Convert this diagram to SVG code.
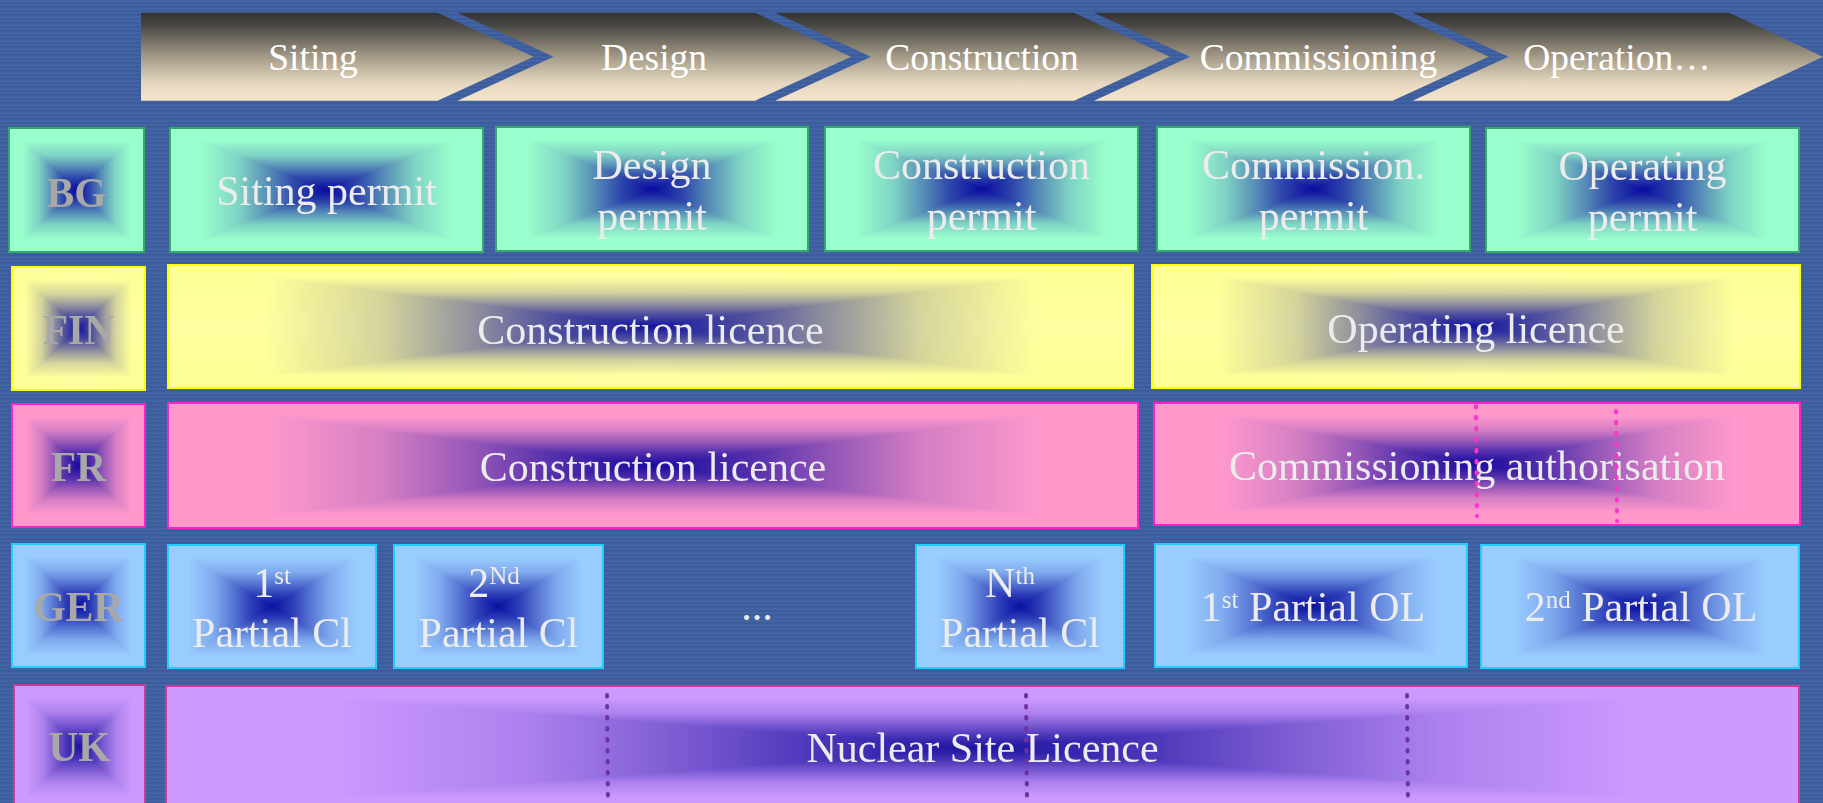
<svg xmlns="http://www.w3.org/2000/svg" width="1823" height="803" viewBox="0 0 1823 803">
<style>
  .t{font-family:"Liberation Serif","Times New Roman",serif;font-size:42px;fill:#ececec;text-anchor:middle}
  .h{font-family:"Liberation Serif","Times New Roman",serif;font-size:37.5px;fill:#ffffff;text-anchor:middle}
  .lb{font-family:"Liberation Serif","Times New Roman",serif;font-size:41.5px;font-weight:bold;fill:#a8a8a8;text-anchor:middle}
  .sup{font-size:25px}
  .lt{mix-blend-mode:lighten}
  .iso{isolation:isolate}
  .bd{fill:none;stroke-width:2}
  .bg-b{stroke:#33aa66}
  .fi-b{stroke:#ffff00}
  .fr-b{stroke:#ff22cc}
  .ge-b{stroke:#22ccff}
  .uk-b{stroke:#c83c96}
  .dotp{fill:none;stroke:#ff33cc;stroke-width:4;stroke-linecap:round;stroke-dasharray:1.5 9.5}
  .dotu{fill:none;stroke:#7030a0;stroke-width:4;stroke-linecap:round;stroke-dasharray:1.5 9.5}
</style>
<defs>
  <pattern id="bgp" width="8" height="4" patternUnits="userSpaceOnUse">
    <rect width="8" height="4" fill="#4364a4"/>
    <rect y="2" width="8" height="2" fill="#3d5c9c"/>
  </pattern>
  <linearGradient id="hdr" x1="0" y1="0" x2="0" y2="1">
    <stop offset="0" stop-color="#333333"/>
    <stop offset="0.15" stop-color="#4a4843"/>
    <stop offset="0.5" stop-color="#a39a88"/>
    <stop offset="0.8" stop-color="#e6d8bf"/>
    <stop offset="1" stop-color="#f4e5cb"/>
  </linearGradient>
  <!-- green -->
  <linearGradient id="gh" x1="0" y1="0" x2="1" y2="0">
    <stop offset="0" stop-color="#99ffcc"/><stop offset="0.1" stop-color="#99ffcc"/>
    <stop offset="0.22" stop-color="#7fd3c4"/><stop offset="0.32" stop-color="#5489b7"/>
    <stop offset="0.4" stop-color="#2e47ab"/><stop offset="0.46" stop-color="#1822a4"/>
    <stop offset="0.5" stop-color="#0a0aa0"/>
    <stop offset="0.54" stop-color="#1822a4"/><stop offset="0.6" stop-color="#2e47ab"/>
    <stop offset="0.68" stop-color="#5489b7"/><stop offset="0.78" stop-color="#7fd3c4"/>
    <stop offset="0.9" stop-color="#99ffcc"/><stop offset="1" stop-color="#99ffcc"/>
  </linearGradient>
  <linearGradient id="gv" href="#gh" x1="0" y1="0" x2="0" y2="1"/>
  <!-- yellow -->
  <linearGradient id="yh" x1="0" y1="0" x2="1" y2="0">
    <stop offset="0" stop-color="#ffff99"/><stop offset="0.1" stop-color="#ffff99"/>
    <stop offset="0.22" stop-color="#d5d59a"/><stop offset="0.32" stop-color="#8e8e9c"/>
    <stop offset="0.4" stop-color="#4f4f9e"/><stop offset="0.46" stop-color="#2c2c9f"/>
    <stop offset="0.5" stop-color="#1414a0"/>
    <stop offset="0.54" stop-color="#2c2c9f"/><stop offset="0.6" stop-color="#4f4f9e"/>
    <stop offset="0.68" stop-color="#8e8e9c"/><stop offset="0.78" stop-color="#d5d59a"/>
    <stop offset="0.9" stop-color="#ffff99"/><stop offset="1" stop-color="#ffff99"/>
  </linearGradient>
  <linearGradient id="yv" href="#yh" x1="0" y1="0" x2="0" y2="1"/>
  <!-- pink -->
  <linearGradient id="ph" x1="0" y1="0" x2="1" y2="0">
    <stop offset="0" stop-color="#ff99cc"/><stop offset="0.1" stop-color="#ff99cc"/>
    <stop offset="0.22" stop-color="#d67fc4"/><stop offset="0.32" stop-color="#9154b7"/>
    <stop offset="0.4" stop-color="#522eab"/><stop offset="0.46" stop-color="#3018a4"/>
    <stop offset="0.5" stop-color="#190aa0"/>
    <stop offset="0.54" stop-color="#3018a4"/><stop offset="0.6" stop-color="#522eab"/>
    <stop offset="0.68" stop-color="#9154b7"/><stop offset="0.78" stop-color="#d67fc4"/>
    <stop offset="0.9" stop-color="#ff99cc"/><stop offset="1" stop-color="#ff99cc"/>
  </linearGradient>
  <linearGradient id="pv" href="#ph" x1="0" y1="0" x2="0" y2="1"/>
  <!-- blue -->
  <linearGradient id="bh" x1="0" y1="0" x2="1" y2="0">
    <stop offset="0" stop-color="#99ccff"/><stop offset="0.1" stop-color="#99ccff"/>
    <stop offset="0.22" stop-color="#7faaee"/><stop offset="0.32" stop-color="#5472d1"/>
    <stop offset="0.4" stop-color="#2e3fb8"/><stop offset="0.46" stop-color="#1823aa"/>
    <stop offset="0.5" stop-color="#0a10a0"/>
    <stop offset="0.54" stop-color="#1823aa"/><stop offset="0.6" stop-color="#2e3fb8"/>
    <stop offset="0.68" stop-color="#5472d1"/><stop offset="0.78" stop-color="#7faaee"/>
    <stop offset="0.9" stop-color="#99ccff"/><stop offset="1" stop-color="#99ccff"/>
  </linearGradient>
  <linearGradient id="bv" href="#bh" x1="0" y1="0" x2="0" y2="1"/>
  <!-- purple -->
  <linearGradient id="uh" x1="0" y1="0" x2="1" y2="0">
    <stop offset="0" stop-color="#cc99ff"/><stop offset="0.1" stop-color="#cc99ff"/>
    <stop offset="0.22" stop-color="#ad81ee"/><stop offset="0.32" stop-color="#7959d1"/>
    <stop offset="0.4" stop-color="#4a35b8"/><stop offset="0.46" stop-color="#2f21aa"/>
    <stop offset="0.5" stop-color="#1e14a0"/>
    <stop offset="0.54" stop-color="#2f21aa"/><stop offset="0.6" stop-color="#4a35b8"/>
    <stop offset="0.68" stop-color="#7959d1"/><stop offset="0.78" stop-color="#ad81ee"/>
    <stop offset="0.9" stop-color="#cc99ff"/><stop offset="1" stop-color="#cc99ff"/>
  </linearGradient>
  <linearGradient id="uv" href="#uh" x1="0" y1="0" x2="0" y2="1"/>
</defs>

<rect id="background" width="1823" height="803" fill="url(#bgp)"/>

<g id="phases">
  <g id="ph-siting"><polygon points="141,12.7 437.5,12.7 533.5,56.7 437.5,100.7 141,100.7" fill="url(#hdr)"/><text class="h" x="313" y="70">Siting</text></g>
  <g id="ph-design"><polygon points="457.5,12.7 755,12.7 851,56.7 755,100.7 457.5,100.7 553.5,56.7" fill="url(#hdr)"/><text class="h" x="654" y="70">Design</text></g>
  <g id="ph-construction"><polygon points="775,12.7 1074,12.7 1170,56.7 1074,100.7 775,100.7 871,56.7" fill="url(#hdr)"/><text class="h" x="982" y="70">Construction</text></g>
  <g id="ph-commissioning"><polygon points="1094,12.7 1392.5,12.7 1488.5,56.7 1392.5,100.7 1094,100.7 1190,56.7" fill="url(#hdr)"/><text class="h" x="1318.5" y="70">Commissioning</text></g>
  <g id="ph-operation"><polygon points="1412.5,12.7 1729,12.7 1823,56.7 1729,100.7 1412.5,100.7 1508.5,56.7" fill="url(#hdr)"/><text class="h" x="1617" y="70">Operation…</text></g>
</g>

<!-- BG row -->
<g id="bg-label" class="iso"><rect x="9" y="128" width="135" height="124" fill="url(#gh)"/><rect class="lt" x="9" y="128" width="135" height="124" fill="url(#gv)"/><rect class="bd bg-b" x="9" y="128" width="135" height="124"/><text class="lb" x="76.5" y="207">BG</text></g>
<g id="bg-siting" class="iso"><rect x="170" y="128" width="313" height="124" fill="url(#gh)"/><rect class="lt" x="170" y="128" width="313" height="124" fill="url(#gv)"/><rect class="bd bg-b" x="170" y="128" width="313" height="124"/><text class="t" x="326.5" y="205">Siting permit</text></g>
<g id="bg-design" class="iso"><rect x="496" y="127" width="312" height="124" fill="url(#gh)"/><rect class="lt" x="496" y="127" width="312" height="124" fill="url(#gv)"/><rect class="bd bg-b" x="496" y="127" width="312" height="124"/><text class="t"><tspan x="652" y="179">Design</tspan><tspan x="652" y="230">permit</tspan></text></g>
<g id="bg-construction" class="iso"><rect x="825" y="127" width="313" height="124" fill="url(#gh)"/><rect class="lt" x="825" y="127" width="313" height="124" fill="url(#gv)"/><rect class="bd bg-b" x="825" y="127" width="313" height="124"/><text class="t"><tspan x="981.5" y="179">Construction</tspan><tspan x="981.5" y="230">permit</tspan></text></g>
<g id="bg-commission" class="iso"><rect x="1157" y="127" width="313" height="124" fill="url(#gh)"/><rect class="lt" x="1157" y="127" width="313" height="124" fill="url(#gv)"/><rect class="bd bg-b" x="1157" y="127" width="313" height="124"/><text class="t"><tspan x="1313.5" y="179">Commission.</tspan><tspan x="1313.5" y="230">permit</tspan></text></g>
<g id="bg-operating" class="iso"><rect x="1486" y="128" width="313" height="124" fill="url(#gh)"/><rect class="lt" x="1486" y="128" width="313" height="124" fill="url(#gv)"/><rect class="bd bg-b" x="1486" y="128" width="313" height="124"/><text class="t"><tspan x="1642.5" y="180">Operating</tspan><tspan x="1642.5" y="231">permit</tspan></text></g>

<!-- FIN row -->
<g id="fin-label" class="iso"><rect x="12" y="267" width="133" height="123" fill="url(#yh)"/><rect class="lt" x="12" y="267" width="133" height="123" fill="url(#yv)"/><rect class="bd fi-b" x="12" y="267" width="133" height="123"/><text class="lb" x="78.5" y="344">FIN</text></g>
<g id="fin-construction" class="iso"><rect x="168" y="265" width="965" height="123" fill="url(#yh)"/><rect class="lt" x="168" y="265" width="965" height="123" fill="url(#yv)"/><rect class="bd fi-b" x="168" y="265" width="965" height="123"/><text class="t" x="650.5" y="344">Construction licence</text></g>
<g id="fin-operating" class="iso"><rect x="1152" y="265" width="648" height="123" fill="url(#yh)"/><rect class="lt" x="1152" y="265" width="648" height="123" fill="url(#yv)"/><rect class="bd fi-b" x="1152" y="265" width="648" height="123"/><text class="t" x="1476" y="343">Operating licence</text></g>

<!-- FR row -->
<g id="fr-label" class="iso"><rect x="12" y="404" width="133" height="123" fill="url(#ph)"/><rect class="lt" x="12" y="404" width="133" height="123" fill="url(#pv)"/><rect class="bd fr-b" x="12" y="404" width="133" height="123"/><text class="lb" x="78.5" y="481">FR</text></g>
<g id="fr-construction" class="iso"><rect x="168" y="403" width="970" height="125" fill="url(#ph)"/><rect class="lt" x="168" y="403" width="970" height="125" fill="url(#pv)"/><rect class="bd fr-b" x="168" y="403" width="970" height="125"/><text class="t" x="653" y="481">Construction licence</text></g>
<g id="fr-commissioning" class="iso"><rect x="1154" y="403" width="646" height="122" fill="url(#ph)"/><rect class="lt" x="1154" y="403" width="646" height="122" fill="url(#pv)"/><rect class="bd fr-b" x="1154" y="403" width="646" height="122"/><text class="t" x="1477" y="480">Commissioning authorisation</text></g>

<!-- GER row -->
<g id="ger-label" class="iso"><rect x="12" y="544" width="133" height="123" fill="url(#bh)"/><rect class="lt" x="12" y="544" width="133" height="123" fill="url(#bv)"/><rect class="bd ge-b" x="12" y="544" width="133" height="123"/><text class="lb" x="78.5" y="621">GER</text></g>
<g id="ger-cl1" class="iso"><rect x="168" y="545" width="208" height="123" fill="url(#bh)"/><rect class="lt" x="168" y="545" width="208" height="123" fill="url(#bv)"/><rect class="bd ge-b" x="168" y="545" width="208" height="123"/><text class="t"><tspan x="272" y="597">1</tspan><tspan class="sup" dy="-13">st</tspan><tspan x="272" y="647">Partial Cl</tspan></text></g>
<g id="ger-cl2" class="iso"><rect x="394" y="545" width="209" height="123" fill="url(#bh)"/><rect class="lt" x="394" y="545" width="209" height="123" fill="url(#bv)"/><rect class="bd ge-b" x="394" y="545" width="209" height="123"/><text class="t"><tspan x="494" y="597">2</tspan><tspan class="sup" dy="-13">Nd</tspan><tspan x="498.5" y="647">Partial Cl</tspan></text></g>
<g id="ger-ellipsis"><text class="t" x="757" y="620">...</text></g>
<g id="ger-cln" class="iso"><rect x="916" y="545" width="208" height="123" fill="url(#bh)"/><rect class="lt" x="916" y="545" width="208" height="123" fill="url(#bv)"/><rect class="bd ge-b" x="916" y="545" width="208" height="123"/><text class="t"><tspan x="1010" y="597">N</tspan><tspan class="sup" dy="-13">th</tspan><tspan x="1020" y="647">Partial Cl</tspan></text></g>
<g id="ger-ol1" class="iso"><rect x="1155" y="544" width="312" height="123" fill="url(#bh)"/><rect class="lt" x="1155" y="544" width="312" height="123" fill="url(#bv)"/><rect class="bd ge-b" x="1155" y="544" width="312" height="123"/><text class="t" x="1313" y="621"><tspan>1</tspan><tspan class="sup" dy="-13">st</tspan><tspan dy="13"> Partial OL</tspan></text></g>
<g id="ger-ol2" class="iso"><rect x="1481" y="545" width="318" height="123" fill="url(#bh)"/><rect class="lt" x="1481" y="545" width="318" height="123" fill="url(#bv)"/><rect class="bd ge-b" x="1481" y="545" width="318" height="123"/><text class="t" x="1641" y="621"><tspan>2</tspan><tspan class="sup" dy="-13">nd</tspan><tspan dy="13"> Partial OL</tspan></text></g>

<!-- UK row -->
<g id="uk-label" class="iso"><rect x="14" y="685" width="131" height="124" fill="url(#uh)"/><rect class="lt" x="14" y="685" width="131" height="124" fill="url(#uv)"/><rect class="bd uk-b" x="14" y="685" width="131" height="124"/><text class="lb" x="79.5" y="761">UK</text></g>
<g id="uk-nsl" class="iso"><rect x="166" y="686" width="1633" height="124" fill="url(#uh)"/><rect class="lt" x="166" y="686" width="1633" height="124" fill="url(#uv)"/><rect class="bd uk-b" x="166" y="686" width="1633" height="124"/><text class="t" x="982.5" y="762">Nuclear Site Licence</text></g>

<g id="connectors">
  <line class="dotp" x1="1476" y1="406" x2="1477" y2="516"/>
  <line class="dotp" x1="1616" y1="411" x2="1617" y2="521"/>
  <line class="dotu" x1="607" y1="695" x2="608" y2="803"/>
  <line class="dotu" x1="1026" y1="695" x2="1027" y2="803"/>
  <line class="dotu" x1="1407" y1="695" x2="1408" y2="803"/>
</g>
</svg>
